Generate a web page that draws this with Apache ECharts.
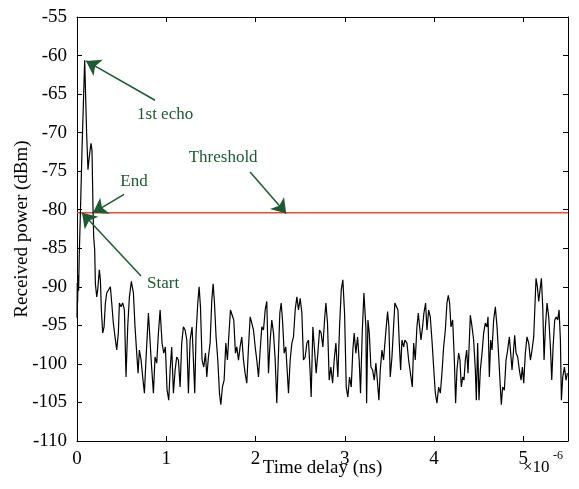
<!DOCTYPE html>
<html>
<head>
<meta charset="utf-8">
<script src="https://cdn.jsdelivr.net/npm/echarts@6/dist/echarts.min.js"></script>
<style>html,body{margin:0;padding:0;background:#fff;}#c{width:579px;height:489px;}</style>
</head>
<body>
<div id="c"></div>
<script>
// time delay in units of 1e-6 s
const delayTimes = [
0.000,0.003,0.007,0.012,0.018,0.025,0.037,0.056,0.086,0.108,0.123,0.138,0.157,0.168,0.179,0.187,0.198,
0.206,0.221,0.232,0.250,0.262,0.273,0.288,0.303,0.318,0.333,0.355,0.374,0.389,0.407,0.426,0.445,0.463,0.475,
0.493,0.512,0.531,0.549,0.568,0.587,0.609,0.632,0.650,0.669,0.684,0.699,0.718,0.736,0.755,0.774,0.800,0.818,
0.833,0.856,0.874,0.893,0.912,0.931,0.953,0.972,0.990,1.009,1.028,
1.043,1.061,1.080,1.099,1.117,1.136,1.155,1.173,1.192,1.211,1.230,1.248,1.267,1.289,1.304,1.319,1.334,1.353,
1.368,1.383,1.401,1.420,1.439,1.454,1.472,1.491,1.510,1.525,1.540,1.558,1.577,1.596,1.611,1.629,1.648,1.667,
1.685,1.700,1.719,1.738,1.756,1.775,1.790,1.809,1.827,1.846,1.865,1.883,1.902,1.921,1.940,1.958,1.977,1.996,
2.014,2.033,2.052,2.070,2.089,2.108,2.126,
2.145,2.164,2.182,2.201,2.220,2.238,2.257,2.272,2.287,2.302,2.321,2.339,2.354,2.369,2.388,2.407,2.425,2.444,
2.463,2.481,2.500,2.519,2.537,2.556,2.575,2.593,2.612,2.623,2.642,2.661,2.679,2.698,2.717,2.735,2.754,2.773,
2.788,2.806,2.825,2.844,2.863,2.881,2.900,2.922,2.941,2.960,2.978,2.997,3.016,3.034,3.053,3.072,3.090,3.105,
3.124,3.143,3.161,3.176,3.195,3.214,
3.225,3.236,3.244,3.259,3.274,3.292,3.311,3.330,3.348,3.367,3.382,3.397,3.416,3.434,3.449,3.464,3.479,3.494,
3.509,3.528,3.546,3.561,3.576,3.595,3.610,3.625,3.640,3.659,3.673,3.696,3.715,3.733,3.756,3.771,3.789,3.808,
3.823,3.838,3.853,3.871,3.886,3.905,3.920,3.939,3.957,3.976,3.995,4.014,4.032,4.051,4.070,4.088,4.107,4.126,
4.144,4.159,4.174,4.189,4.208,4.227,4.241,
4.256,4.275,4.290,4.305,4.320,4.335,4.350,4.365,4.380,4.395,4.406,4.425,4.443,4.462,4.473,4.488,4.503,4.518,
4.537,4.555,4.574,4.593,4.604,4.619,4.634,4.649,4.667,4.686,4.705,4.724,4.742,4.753,4.768,4.787,4.806,4.824,
4.843,4.858,4.873,4.888,4.903,4.918,4.937,4.955,4.974,4.989,5.004,5.022,5.041,5.060,5.079,5.097,5.116,5.131,
5.142,5.157,5.172,5.187,5.202,5.217,5.232,5.247,5.265,5.284,5.303,5.318,5.333,5.351,5.370,5.385,5.400,5.415,
5.426,5.441,5.460,5.478,5.493
];
// received power, dBm
const receivedPower = [
-94.0,-89.5,-92.0,-88.5,-90.5,-86.0,-80.9,-72.3,-60.6,-70.1,-74.8,-73.1,-71.4,-72.3,-79.6,-83.5,-85.2,
-89.6,-91.3,-90.4,-87.8,-89.1,-93.0,-96.0,-95.2,-92.1,-90.8,-90.6,-90.0,-92.1,-94.7,-96.5,-98.2,-96.0,-92.1,
-92.6,-92.1,-93.0,-101.7,-95.2,-91.3,-89.3,-90.8,-95.2,-98.6,-101.2,-98.2,-99.5,-101.7,-103.8,-99.1,-93.4,-96.9,
-99.9,-103.8,-99.1,-99.9,-96.0,-93.0,-97.3,-98.6,-97.8,-103.4,-104.7,
-100.8,-97.8,-103.8,-100.8,-99.1,-99.5,-103.0,-97.3,-95.2,-95.6,-96.9,-103.8,-96.9,-95.2,-99.5,-103.8,-96.0,-92.1,
-90.0,-92.6,-99.5,-100.4,-98.6,-101.7,-99.1,-97.3,-91.7,-89.6,-92.1,-96.5,-99.5,-103.8,-105.3,-103.0,-102.1,-97.3,
-99.5,-96.5,-93.0,-92.8,-94.3,-98.6,-97.8,-99.5,-97.8,-96.5,-99.5,-101.2,-102.5,-97.8,-93.9,-94.7,-95.6,-97.8,
-99.5,-101.7,-98.2,-95.2,-95.6,-93.0,-91.9,
-101.2,-96.9,-94.3,-96.0,-99.5,-105.1,-98.6,-93.4,-92.1,-94.3,-98.6,-97.8,-100.8,-103.8,-99.5,-97.3,-96.5,-93.0,
-91.3,-93.0,-91.5,-93.4,-99.5,-99.1,-97.3,-96.9,-101.2,-104.3,-95.2,-98.2,-101.2,-98.6,-95.6,-96.0,-97.8,-94.3,
-92.1,-94.7,-102.1,-100.4,-102.5,-99.5,-97.3,-101.7,-95.2,-90.4,-89.1,-93.4,-103.0,-104.3,-101.7,-103.0,-98.2,-96.0,
-98.6,-96.5,-99.5,-103.8,-96.0,-90.8,
-90.6,-95.2,-105.1,-94.3,-96.0,-100.4,-100.8,-102.1,-99.9,-102.5,-104.7,-100.8,-98.2,-99.5,-97.3,-95.2,-93.2,-95.2,
-101.7,-99.1,-95.2,-92.1,-91.9,-93.0,-97.3,-100.8,-96.9,-97.8,-96.9,-97.3,-99.5,-99.5,-103.0,-97.3,-99.5,-95.2,
-93.4,-95.2,-96.9,-95.2,-93.4,-92.1,-95.6,-93.0,-93.9,-96.9,-100.4,-103.8,-105.1,-103.0,-103.8,-101.2,-97.8,-95.6,
-92.1,-91.1,-92.1,-95.2,-94.3,-99.5,-105.1,
-100.8,-98.6,-99.5,-103.0,-101.7,-102.1,-99.5,-98.2,-101.2,-96.9,-93.7,-95.2,-96.9,-100.8,-104.7,-97.3,-104.7,-100.8,
-98.6,-96.0,-94.7,-95.2,-93.9,-101.7,-96.9,-98.2,-94.3,-92.6,-95.2,-99.1,-103.0,-105.3,-103.0,-103.4,-99.5,-98.2,
-96.5,-98.6,-100.8,-98.6,-96.3,-98.6,-99.1,-100.8,-102.1,-100.4,-102.5,-98.6,-96.5,-97.3,-99.5,-98.2,-96.5,-92.1,
-88.9,-90.0,-91.9,-90.4,-88.9,-92.6,-99.5,-95.2,-92.1,-93.9,-97.8,-102.1,-97.8,-94.3,-93.9,-94.3,-93.0,-96.9,
-104.7,-101.7,-100.4,-102.1,-101.2
];
const thresholdPower = -80.4;
const xTickValues = [0, 1, 2, 3, 4, 5];
const xRange = [0, 5.5];
const yRange = [-110, -55];
const yStep = 5;

// annotations (data coordinates)
const annotationTexts = ['1st echo', 'End', 'Start', 'Threshold'];
const annotationTextAt = [[0.987, -67.6], [0.639, -76.3], [0.964, -89.6], [1.637, -73.2]];
const arrowFrom = [[0.874, -65.8], [0.527, -78.0], [0.717, -88.6], [1.939, -75.1]];
const arrowTo = [[0.101, -60.7], [0.179, -80.4], [0.056, -80.4], [2.343, -80.5]];

const FONT = 'Liberation Serif';
const GREEN = '#1d5a33';

const signal = delayTimes.map((t, i) => [t, receivedPower[i]]);
const thresholdLine = [[xRange[0], thresholdPower], [xRange[1], thresholdPower]];

const chart = echarts.init(document.getElementById('c'));

const baseX = {
  type: 'value', min: xRange[0], max: xRange[1], interval: 1,
  axisLine: { show: true, onZero: false, lineStyle: { color: '#000', width: 1 } },
  axisTick: { show: true, inside: true, length: 5, lineStyle: { color: '#000' } },
  splitLine: { show: false }
};
const baseY = {
  type: 'value', min: yRange[0], max: yRange[1], interval: yStep,
  axisLine: { show: true, onZero: false, lineStyle: { color: '#000', width: 1 } },
  axisTick: { show: true, inside: true, length: 5, lineStyle: { color: '#000' } },
  splitLine: { show: false }
};

chart.setOption({
  animation: false,
  backgroundColor: '#fff',
  grid: { left: 77, right: 11, top: 17, bottom: 48, containLabel: false, outerBoundsMode: 'none' },
  xAxis: [
    Object.assign({}, baseX, {
      position: 'bottom',
      name: 'Time delay (ns)', nameLocation: 'middle', nameGap: 18, nameMoveOverlap: false,
      nameTextStyle: { fontFamily: FONT, fontSize: 19, color: '#000', verticalAlign: 'top' },
      axisLabel: {
        fontFamily: FONT, fontSize: 19, color: '#000', margin: 9,
        formatter: v => (xTickValues.indexOf(v) >= 0 ? String(v) : '')
      }
    }),
    Object.assign({}, baseX, { position: 'top', axisLabel: { show: false } })
  ],
  yAxis: [
    Object.assign({}, baseY, {
      position: 'left',
      name: 'Received power (dBm)', nameLocation: 'middle', nameGap: 45, nameMoveOverlap: false,
      nameTextStyle: { fontFamily: FONT, fontSize: 19, color: '#000' },
      axisLabel: { fontFamily: FONT, fontSize: 19, color: '#000', margin: 10 }
    }),
    Object.assign({}, baseY, { position: 'right', axisLabel: { show: false } })
  ],
  graphic: [
    { type: 'text', left: 523, top: 459, style: { text: '×10', font: '17px "Liberation Serif"', fill: '#000' } },
    { type: 'text', left: 553, top: 450, style: { text: '-6', font: '12px "Liberation Serif"', fill: '#000' } }
  ],
  series: [
    {
      type: 'line', name: 'Threshold', data: thresholdLine, showSymbol: false, symbol: 'none',
      lineStyle: { color: '#f04a36', width: 1.4 }, silent: true, z: 2
    },
    {
      type: 'line', name: 'Received power', data: signal, showSymbol: false, symbol: 'none',
      lineStyle: { color: '#000', width: 1.2 }, silent: true, z: 3,
      markLine: {
        silent: true, symbol: ['none', 'arrow'], symbolSize: 14,
        lineStyle: { color: GREEN, width: 1.5, type: 'solid' },
        label: { show: false },
        data: arrowFrom.map((f, i) => [{ coord: f }, { coord: arrowTo[i] }])
      },
      markPoint: {
        silent: true, symbol: 'circle', symbolSize: 0,
        label: { show: true, position: 'inside', fontFamily: FONT, fontSize: 17, color: GREEN },
        data: annotationTexts.map((s, i) => ({ coord: annotationTextAt[i], value: s, label: { formatter: s } }))
      }
    }
  ]
});
</script>
</body>
</html>
